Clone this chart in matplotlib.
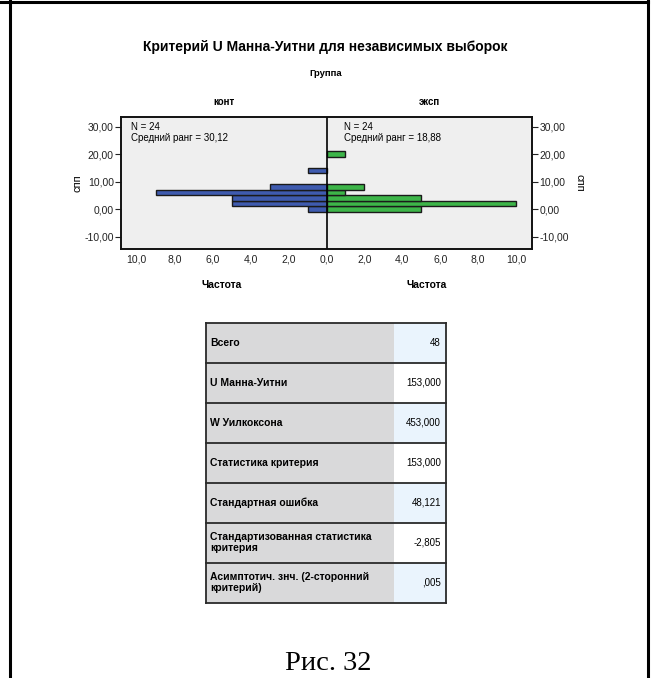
import matplotlib
matplotlib.use("Agg")
import matplotlib.pyplot as plt
from matplotlib.patches import Rectangle
from matplotlib.ticker import FixedLocator, FuncFormatter

plt.rcParams['font.family'] = ['Liberation Sans', 'DejaVu Sans']

# --- data ---------------------------------------------------------------
bin_centers = [0, 2, 4, 6, 8, 14, 20]
freq_kont = [1, 5, 5, 9, 3, 1, 0]
freq_eksp = [5, 10, 5, 1, 2, 0, 1]
bin_width = 2.0

group_names = ["конт", "эксп"]
n_groups = [24, 24]
mean_ranks = ["30,12", "18,88"]

y_ticks = [-10, 0, 10, 20, 30]
x_ticks = [-10, -8, -6, -4, -2, 0, 2, 4, 6, 8, 10]

table_labels = [
    "Всего",
    "U Манна-Уитни",
    "W Уилкоксона",
    "Статистика критерия",
    "Стандартная ошибка",
    "Стандартизованная статистика\nкритерия",
    "Асимптотич. знч. (2-сторонний\nкритерий)",
]
table_values = ["48", "153,000", "453,000", "153,000", "48,121", "-2,805", ",005"]

W, H = 656, 678
fig = plt.figure(figsize=(W / 100, H / 100), dpi=100)

BLUE = "#3F5BAF"
GREEN = "#3DB549"
EDGE = "#1a1a1a"


def fig_rect(x0, y0, x1, y1):
    return [x0 / W, 1 - y1 / H, (x1 - x0) / W, (y1 - y0) / H]


def comma(v, digits):
    return f"{v:.{digits}f}".replace(".", ",")


# --- population pyramid ---------------------------------------------------
ax = fig.add_axes(fig_rect(120.7, 116.7, 532.3, 249.3))
ax.set_facecolor("#EFEFEF")
ax.set_xlim(-10.85, 10.85)
ax.set_ylim(-14.6, 33.6)

for yc, c in zip(bin_centers, freq_kont):
    if c:
        ax.barh(yc, -c, height=bin_width, left=0, color=BLUE,
                edgecolor=EDGE, linewidth=1.0, zorder=3)
for yc, c in zip(bin_centers, freq_eksp):
    if c:
        ax.barh(yc, c, height=bin_width, left=0, color=GREEN,
                edgecolor=EDGE, linewidth=1.0, zorder=3)

ax.axvline(0, color="black", linewidth=1.2, zorder=4)

ax.xaxis.set_major_locator(FixedLocator(x_ticks))
ax.xaxis.set_major_formatter(FuncFormatter(lambda v, p: comma(abs(v), 1)))
ax.tick_params(axis="x", length=0, pad=4, labelsize=7.5, colors="#222222")

ax.yaxis.set_major_locator(FixedLocator(y_ticks))
ax.yaxis.set_major_formatter(FuncFormatter(lambda v, p: comma(v, 2)))
ax.tick_params(axis="y", length=4, width=0.8, labelsize=7.5, colors="#222222",
               pad=1)
ax.set_ylabel("спп", fontsize=8, labelpad=1)

axr = ax.twinx()
axr.set_ylim(ax.get_ylim())
axr.yaxis.set_major_locator(FixedLocator(y_ticks))
axr.yaxis.set_major_formatter(FuncFormatter(lambda v, p: comma(v, 2)))
axr.tick_params(axis="y", length=4, width=0.8, labelsize=7.5, colors="#222222",
                pad=1)
axr.set_ylabel("спп", fontsize=8, rotation=270, labelpad=11)

for a in (ax, axr):
    for s in a.spines.values():
        s.set_linewidth(1.2)
        s.set_color("#111111")

# annotations inside each half
for xpos, n, mr in zip([-10.3, 0.9], n_groups, mean_ranks):
    ax.text(xpos, 31.8, f"N = {n}\nСредний ранг = {mr}", fontsize=7,
            va="top", ha="left", linespacing=1.15, zorder=5)

# --- overlay for titles, table and frame ----------------------------------
ov = fig.add_axes([0, 0, 1, 1], facecolor="none")
ov.set_xlim(0, W)
ov.set_ylim(H, 0)
ov.axis("off")

ov.text(325, 46.5, "Критерий U Манна-Уитни для независимых выборок",
        fontsize=10, fontweight="bold", ha="center", va="center")
ov.text(326, 74, "Группа", fontsize=6.8, fontweight="bold",
        ha="center", va="center")
ov.text(223.7, 102, group_names[0], fontsize=7, fontweight="bold",
        ha="center", va="center")
ov.text(429.5, 102, group_names[1], fontsize=7, fontweight="bold",
        ha="center", va="center")
ov.text(222, 285, "Частота", fontsize=7.5, fontweight="bold",
        ha="center", va="center")
ov.text(427, 285, "Частота", fontsize=7.5, fontweight="bold",
        ha="center", va="center")

# statistics table
tx0, tx1, tsplit = 206, 446, 394
ty0, row_h = 322.7, 40
for i, (lab, val) in enumerate(zip(table_labels, table_values)):
    y0 = ty0 + i * row_h
    ov.add_patch(Rectangle((tx0, y0), tsplit - tx0, row_h,
                           facecolor="#D9D9DA", edgecolor="none"))
    vcol = "#EAF4FD" if i % 2 == 0 else "white"
    ov.add_patch(Rectangle((tsplit, y0), tx1 - tsplit, row_h,
                           facecolor=vcol, edgecolor="none"))
    ov.text(tx0 + 4, y0 + row_h / 2, lab, fontsize=7.5, fontweight="bold",
            ha="left", va="center", linespacing=1.15)
    ov.text(tx1 - 5, y0 + row_h / 2, val, fontsize=7,
            ha="right", va="center")
for i in range(len(table_labels) + 1):
    yy = ty0 + i * row_h
    ov.plot([tx0, tx1], [yy, yy], color="#2a2a2a", linewidth=1.3)
ty1 = ty0 + len(table_labels) * row_h
ov.plot([tx0, tx0], [ty0, ty1], color="#2a2a2a", linewidth=1.3)
ov.plot([tx1, tx1], [ty0, ty1], color="#2a2a2a", linewidth=1.3)

# caption
ov.text(328, 663, "Рис. 32", fontsize=20.5, family="Liberation Serif",
        ha="center", va="center")

# page frame
ov.plot([0, 648], [1.8, 1.8], color="black", linewidth=2.2)
ov.plot([10, 10], [0, H], color="black", linewidth=2.2)
ov.plot([647.5, 647.5], [0, H], color="black", linewidth=2.2)

fig.savefig("out.png", dpi=100)
